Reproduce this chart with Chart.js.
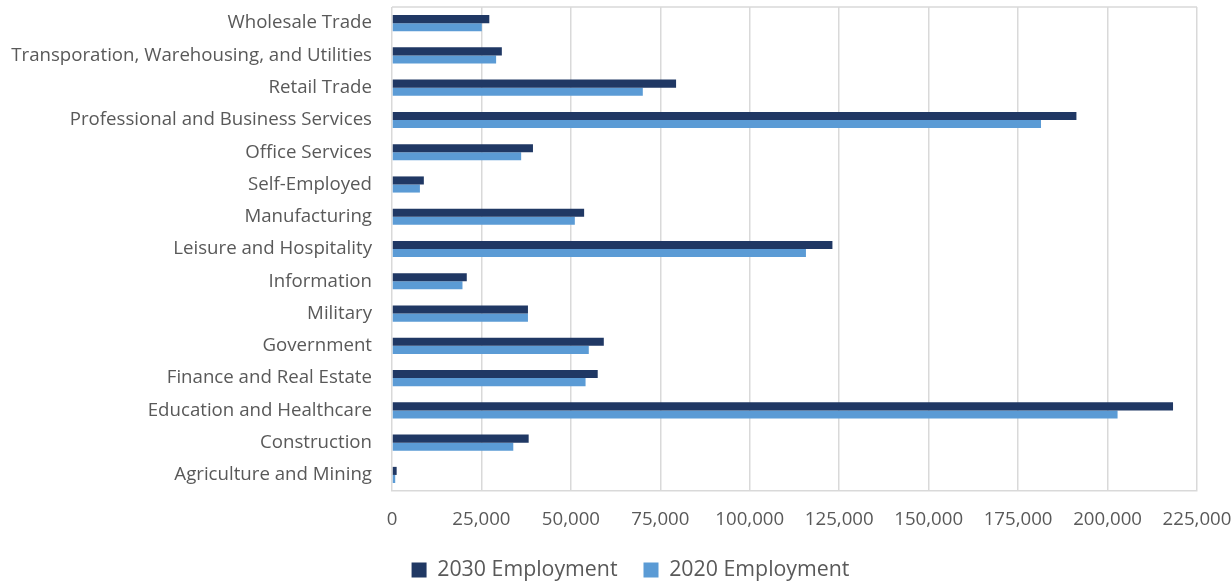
<!DOCTYPE html>
<html>
<head>
<meta charset="utf-8">
<script src="https://cdn.jsdelivr.net/npm/chart.js@4/dist/chart.umd.min.js"></script>
<style>
html,body{margin:0;padding:0;background:#fff;}
#wrap{width:1231px;height:584px;position:relative;}
</style>
</head>
<body>
<div id="wrap"><canvas id="c" width="1231" height="584"></canvas></div>
<script>
const categories = [
  "Wholesale Trade",
  "Transporation, Warehousing, and Utilities",
  "Retail Trade",
  "Professional and Business Services",
  "Office Services",
  "Self-Employed",
  "Manufacturing",
  "Leisure and Hospitality",
  "Information",
  "Military",
  "Government",
  "Finance and Real Estate",
  "Education and Healthcare",
  "Construction",
  "Agriculture and Mining"
];
const employment2030 = [27200, 30700, 79400, 191300, 39400, 8900, 53700, 123100, 20900, 38000, 59200, 57500, 218300, 38200, 1300];
const employment2020 = [25100, 29100, 70100, 181400, 36100, 7800, 51100, 115700, 19700, 38000, 55000, 54100, 202800, 33900, 900];
const seriesNames = ["2030 Employment", "2020 Employment"];
const xTicks = [0, 25000, 50000, 75000, 100000, 125000, 150000, 175000, 200000, 225000];

const FONT = "'Open Sans', sans-serif";
const TEXT = "#595959";
const GRID = "#d9d9d9";

const framePlugin = {
  id: 'frame',
  afterLayout(chart) {
    const l = chart.legend;
    if (l) { l.left += 15; l.right += 15; }
  },
  beforeDatasetsDraw(chart) {
    const {ctx, chartArea: a} = chart;
    ctx.save();
    ctx.strokeStyle = GRID;
    ctx.lineWidth = 1.5;
    ctx.beginPath();
    ctx.moveTo(a.left, a.top);
    ctx.lineTo(a.right, a.top);
    ctx.stroke();
    ctx.restore();
  }
};

new Chart(document.getElementById('c'), {
  type: 'bar',
  data: {
    labels: categories,
    datasets: [
      { label: seriesNames[0], data: employment2030, backgroundColor: "#203864", borderWidth: 0 },
      { label: seriesNames[1], data: employment2020, backgroundColor: "#5b9bd5", borderWidth: 0 }
    ]
  },
  options: {
    indexAxis: 'y',
    responsive: false,
    animation: false,
    layout: { padding: { top: 7, right: 0, left: 0, bottom: -6.7 } },
    datasets: { bar: { categoryPercentage: 0.5, barPercentage: 1.0 } },
    scales: {
      x: {
        min: 0, max: 225000,
        afterBuildTicks(scale) { scale.ticks = xTicks.map(v => ({ value: v })); },
        ticks: {
          color: TEXT,
          font: { family: FONT, size: 18.67 },
          padding: 17,
          maxRotation: 0,
          callback: v => v.toLocaleString('en-US')
        },
        grid: { color: GRID, lineWidth: 1.5, drawTicks: false },
        border: { display: true, color: GRID, width: 1.5 },
        afterFit(scale) { scale.height = 42.3; scale.paddingRight = 34; scale.paddingLeft = 0; }
      },
      y: {
        ticks: {
          color: TEXT,
          font: { family: FONT, size: 18.67 },
          padding: 20,
          autoSkip: false
        },
        grid: { display: false, drawTicks: false },
        border: { display: false },
        afterFit(scale) { scale.width = 392; scale.paddingTop = 0; scale.paddingBottom = 0; }
      }
    },
    plugins: {
      legend: {
        position: 'bottom',
        labels: {
          color: TEXT,
          font: { family: FONT, size: 21.33 },
          boxWidth: 15,
          boxHeight: 15,
          padding: 26
        }
      },
      tooltip: { enabled: false }
    }
  },
  plugins: [framePlugin]
});
</script>
</body>
</html>
